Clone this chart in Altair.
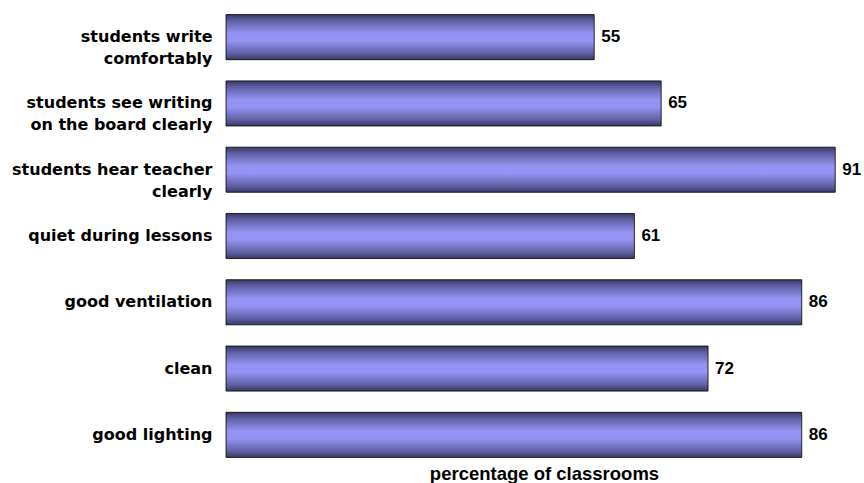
import altair as alt
import pandas as pd

categories = [
    "students write\ncomfortably",
    "students see writing\non the board clearly",
    "students hear teacher\nclearly",
    "quiet during lessons",
    "good ventilation",
    "clean",
    "good lighting",
]
values = [55, 65, 91, 61, 86, 72, 86]

df = pd.DataFrame({"item": categories, "pct": values})

FONT = "Liberation Sans"
LABEL_FONT = "DejaVu Sans"

grad = alt.LinearGradient(
    gradient="linear",
    stops=[
        alt.GradientStop(offset=0.0, color="#3a3a66"),
        alt.GradientStop(offset=0.15, color="#6262a8"),
        alt.GradientStop(offset=0.42, color="#9494f4"),
        alt.GradientStop(offset=0.58, color="#9494f4"),
        alt.GradientStop(offset=0.85, color="#6262a8"),
        alt.GradientStop(offset=1.0, color="#3a3a66"),
    ],
    x1=0, x2=0, y1=0, y2=1,
)

y_enc = alt.Y(
    "item:N",
    sort=None,
    scale=alt.Scale(paddingInner=0.32, paddingOuter=0.16),
    axis=alt.Axis(
        title=None,
        ticks=False,
        domain=False,
        labelPadding=14,
        labelFont=LABEL_FONT,
        labelFontSize=16,
        labelFontWeight="bold",
        labelColor="#000000",
        labelLineHeight=22,
        labelLimit=300,
        labelExpr="split(datum.label, '\\n')",
    ),
)

x_enc = alt.X(
    "pct:Q",
    scale=alt.Scale(domain=[0, 95], nice=False),
    axis=alt.Axis(
        title="percentage of classrooms",
        labels=False,
        ticks=False,
        domain=False,
        grid=False,
        titleFont=FONT,
        titleFontSize=18.5,
        titleFontWeight="bold",
        titleColor="#000000",
        titleBaseline="alphabetic",
        titleY=11,
    ),
)

bars = alt.Chart(df).mark_bar(
    color=grad, stroke="#000000", strokeWidth=0.8
).encode(x=x_enc, y=y_enc)

labels = alt.Chart(df).mark_text(
    align="left", baseline="middle", dx=7,
    font=FONT, fontSize=17, fontWeight="bold", color="#000000"
).encode(x="pct:Q", y=alt.Y("item:N", sort=None), text="pct:Q")

chart = (
    alt.layer(bars, labels)
    .properties(
        width=636,
        height=464,
        autosize=alt.AutoSizeParams(type="none"),
        padding={"left": 226, "top": 4, "right": 2, "bottom": 15},
        background="#ffffff",
    )
    .configure_view(stroke=None)
)

chart.save("out.html", embed_options={"renderer": "svg", "actions": False})
